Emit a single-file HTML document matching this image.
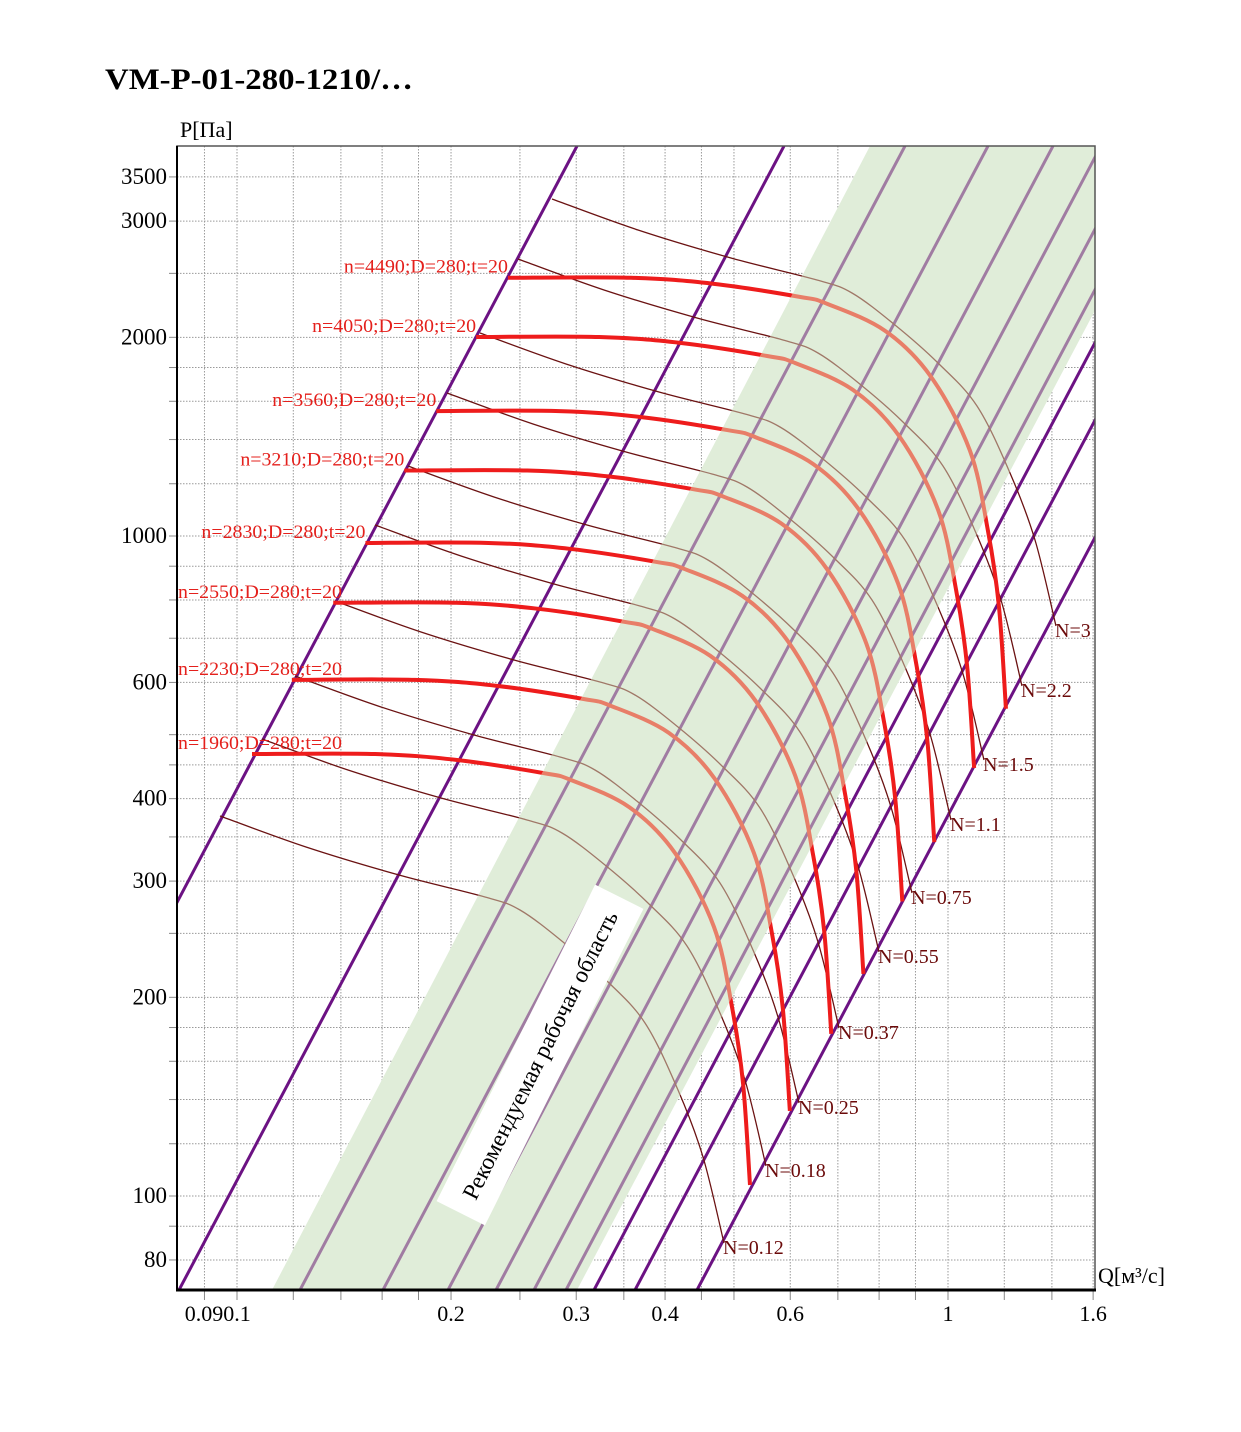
<!DOCTYPE html>
<html><head><meta charset="utf-8"><style>
html,body{margin:0;padding:0;background:#fff;}
svg{display:block;font-family:"Liberation Serif",serif;}
</style></head><body>
<svg id="s" width="1241" height="1432" xmlns="http://www.w3.org/2000/svg">
<defs>
<clipPath id="plot"><rect x="177" y="146" width="918" height="1144"/></clipPath>
<clipPath id="band"><polygon points="272,1290 577,1290 1182,146 870,146"/></clipPath>
<clipPath id="noband"><path d="M0,0H1241V1432H0Z M272,1290 L870,146 L1182,146 L577,1290Z" clip-rule="evenodd"/></clipPath>
</defs>
<text x="105" y="89" font-size="30" font-weight="bold" textLength="308" lengthAdjust="spacingAndGlyphs">VM-P-01-280-1210/…</text>
<text x="180" y="137" font-size="22">P[Па]</text>
<text x="1098" y="1283" font-size="22">Q[м³/с]</text>
<g id="g"></g>
</svg>
<script>
var NS="http://www.w3.org/2000/svg",g=document.getElementById("g");
function el(t,a,p){var e=document.createElementNS(NS,t);for(var k in a)e.setAttribute(k,a[k]);(p||g).appendChild(e);return e;}
function X(q){return 948+Math.log10(q)*711}
function Y(p){return 1196-(Math.log10(p)-2)*660}
var plot=el("g",{"clip-path":"url(#plot)"});
[0.09,0.1,0.12,0.14,0.16,0.18,0.2,0.25,0.3,0.35,0.4,0.45,0.5,0.6,0.7,0.8,0.9,1,1.2,1.4,1.6].forEach(function(q){var x=X(q);
 el("line",{x1:x,y1:146,x2:x,y2:1290,stroke:"#9a9a9a","stroke-width":1,"stroke-dasharray":"1.5,1.5"},plot);
 el("line",{x1:x,y1:1290,x2:x,y2:1300,stroke:"#888","stroke-width":1});});
[80,90,100,120,140,160,180,200,250,300,350,400,450,500,600,700,800,900,1000,1200,1400,1600,1800,2000,2500,3000,3500].forEach(function(p){var y=Y(p);
 el("line",{x1:177,y1:y,x2:1095,y2:y,stroke:"#9a9a9a","stroke-width":1,"stroke-dasharray":"1.5,1.5"},plot);
 el("line",{x1:169,y1:y,x2:177,y2:y,stroke:"#888","stroke-width":1});});
el("polygon",{points:"272,1290 577,1290 1182,146 870,146",fill:"#e0edd9"},plot);
[[-28,577],[179,784]].concat([594,635,697].map(function(b){return [b,b+605]})).forEach(function(l){
 el("line",{x1:l[0],y1:1290,x2:l[1],y2:146,stroke:"#6c1283","stroke-width":3},plot);});
[300,383,448,496,534,566].forEach(function(b){
 el("line",{x1:b,y1:1290,x2:b+605,y2:146,stroke:"#a07ca2","stroke-width":3},plot);});
function path(pts){var d="M"+pts[0][0]+","+pts[0][1];
 for(var i=0;i<pts.length-1;i++){var p0=pts[i-1]||pts[i],p1=pts[i],p2=pts[i+1],p3=pts[i+2]||p2;
  d+=" C"+(p1[0]+(p2[0]-p0[0])/6)+","+(p1[1]+(p2[1]-p0[1])/6)+" "+(p2[0]-(p3[0]-p1[0])/6)+","+(p2[1]-(p3[1]-p1[1])/6)+" "+p2[0]+","+p2[1];}
 return d;}
function tr(R,sx,sy){return R.map(function(p){return [p[0]+sx,p[1]+sy]})}
var T=[[0,0],[86,31],[179,59],[265,81],[300,94],[343,126],[386,164],[425,207],[458,274],[483,341],[504,427]];
var F=[[0,0],[123,0],[205,6],[291,19],[319,26],[377,53],[423,99],[462,173],[480,253],[491,329],[498,431]];
var outer=el("g",{"clip-path":"url(#noband)"},plot), inner=el("g",{"clip-path":"url(#band)"},plot);
var NL=[["N=0.12",723,1254],["N=0.18",765,1177],["N=0.25",798,1114],["N=0.37",838,1039],["N=0.55",878,963],["N=0.75",911,904],["N=1.1",950,831],["N=1.5",983,771],["N=2.2",1021,697],["N=3",1055,637]];
NL.forEach(function(n){var ex=n[1]+1,ey=n[2]-11;var d=path(tr(T,ex-504,ey-427));
 el("path",{d:d,fill:"none",stroke:"#6b1212","stroke-width":1.3},outer);
 el("path",{d:d,fill:"none",stroke:"#a07868","stroke-width":1.3},inner);});
var speeds=[1960,2230,2550,2830,3210,3560,4050,4490];
speeds.forEach(function(n){var L=Math.log10(n/1960),sx=252+711*L,sy=754-1323*L;var d=path(tr(F,sx,sy));
 el("path",{d:d,fill:"none",stroke:"#ee1c1c","stroke-width":4},outer);
 el("path",{d:d,fill:"none",stroke:"#e87e68","stroke-width":4},inner);
 var tx=Math.max(178,sx-164);
 var t=el("text",{x:tx,y:sy-5,"font-size":18.5,fill:"#e4201c",textLength:164,lengthAdjust:"spacingAndGlyphs"});t.textContent="n="+n+";D=280;t=20";});
var bx=el("g",{transform:"translate(540,1055) rotate(-63.4)"});
el("rect",{x:-177,y:-27,width:354,height:54,fill:"#fff"},bx);
var tt=el("text",{x:0,y:8,"font-size":23.5,"text-anchor":"middle"},bx);tt.textContent="Рекомендуемая рабочая область";
NL.forEach(function(n){var t=el("text",{x:n[1],y:n[2],"font-size":20,fill:"#6b0a0a"});t.textContent=n[0];});
el("rect",{x:177,y:146,width:918,height:1144,fill:"none",stroke:"#555","stroke-width":1.5});
el("line",{x1:177,y1:146,x2:177,y2:1291,stroke:"#000","stroke-width":2});
el("line",{x1:176,y1:1290,x2:1096,y2:1290,stroke:"#000","stroke-width":3});
[[80,"80"],[100,"100"],[200,"200"],[300,"300"],[400,"400"],[600,"600"],[1000,"1000"],[2000,"2000"],[3000,"3000"],[3500,"3500"]].forEach(function(a){
 var t=el("text",{x:167,y:Y(a[0])+7,"font-size":23,"text-anchor":"end"});t.textContent=a[1];});
[[0.09,"0.09",204],[0.1,"0.1",237],[0.2,"0.2"],[0.3,"0.3"],[0.4,"0.4"],[0.6,"0.6"],[1,"1"],[1.6,"1.6"]].forEach(function(a){
 var x=a[2]||X(a[0]);var t=el("text",{x:x,y:1321,"font-size":22,"text-anchor":"middle"});t.textContent=a[1];});
</script>
</body></html>
